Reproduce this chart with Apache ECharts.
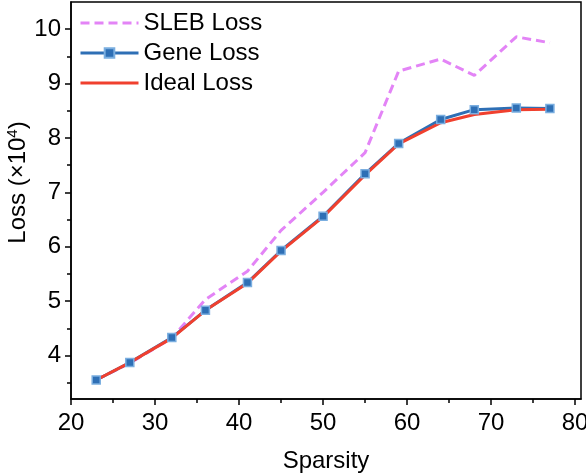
<!DOCTYPE html>
<html>
<head>
<meta charset="utf-8">
<script src="https://cdn.jsdelivr.net/npm/echarts@6/dist/echarts.min.js"></script>
<style>
  html, body { margin: 0; padding: 0; background: #fff; }
  #chart { width: 586px; height: 474px; }
</style>
</head>
<body>
<div id="chart"></div>
<script>
// sparsity (%) on x, loss (x10^4) on y
const sparsity  = [23, 27, 32, 36, 41, 45, 50, 55, 59, 64, 68, 73, 77];
const slebLoss  = [3.55, 3.86, 4.32, 5.03, 5.55, 6.30, 7.00, 7.73, 9.23, 9.45, 9.15, 9.86, 9.75];
const geneLoss  = [3.55, 3.87, 4.33, 4.83, 5.34, 5.93, 6.56, 7.34, 7.90, 8.34, 8.52, 8.55, 8.54];
const idealLoss = [3.55, 3.87, 4.32, 4.83, 5.33, 5.92, 6.55, 7.32, 7.89, 8.28, 8.43, 8.52, 8.53];

const xTicks = [20, 30, 40, 50, 60, 70, 80];
const xMinor = [25, 35, 45, 55, 65, 75];
const yTicks = [4, 5, 6, 7, 8, 9, 10];
const yMinor = [3.5, 4.5, 5.5, 6.5, 7.5, 8.5, 9.5];

const FONT = '"Liberation Sans", Arial, sans-serif';
const FS = 24;
const pairs = ys => sparsity.map((x, i) => [x, ys[i]]);

const xRange = { min: 20, max: 80.7 };
const yRange = { min: 3.2, max: 10.5 };

const chart = echarts.init(document.getElementById('chart'));
chart.setOption({
  animation: false,
  textStyle: { fontFamily: FONT },
  grid: {
    left: 71, right: 5, top: 2, bottom: 75,
    containLabel: false, outerBoundsMode: 'none',
    show: true, borderColor: '#000', borderWidth: 1.5
  },
  legend: {
    orient: 'vertical', left: 74, top: 6,
    itemWidth: 58, itemHeight: 12, itemGap: 6,
    lineStyle: { width: 3 },
    textStyle: { fontSize: FS, lineHeight: 24, color: '#000', fontFamily: FONT },
    data: [
      { name: 'SLEB Loss', itemStyle: { opacity: 0 } },
      { name: 'Gene Loss' },
      { name: 'Ideal Loss', itemStyle: { opacity: 0 } }
    ]
  },
  xAxis: [{
    type: 'value', ...xRange,
    name: 'Sparsity', nameLocation: 'middle', nameGap: 50, nameMoveOverlap: false,
    nameTextStyle: { fontSize: FS, color: '#000', fontFamily: FONT },
    splitLine: { show: false },
    axisLine: { lineStyle: { color: '#000', width: 1.5 } },
    axisTick: { customValues: xTicks, length: 6, lineStyle: { color: '#000', width: 1.5 } },
    axisLabel: { customValues: xTicks, fontSize: FS, color: '#000', margin: 12, fontFamily: FONT }
  }, {
    // minor ticks
    type: 'value', ...xRange, position: 'bottom',
    splitLine: { show: false },
    axisLine: { show: false },
    axisTick: { customValues: xMinor, length: 4, lineStyle: { color: '#000', width: 1.5 } },
    axisLabel: { show: false }
  }],
  yAxis: [{
    type: 'value', ...yRange,
    name: '{a|Loss (×10}{s|4}{a|)}', nameLocation: 'middle', nameGap: 40, nameRotate: 90,
    nameMoveOverlap: false,
    nameTextStyle: {
      padding: [0, 0, 0, 36],
      rich: {
        a: { fontSize: FS, color: '#000', fontFamily: FONT, lineHeight: 26 },
        s: { fontSize: 15, color: '#000', fontFamily: FONT, verticalAlign: 'top', lineHeight: 15 }
      }
    },
    splitLine: { show: false },
    axisLine: { lineStyle: { color: '#000', width: 1.5 } },
    axisTick: { customValues: yTicks, length: 6, lineStyle: { color: '#000', width: 1.5 } },
    axisLabel: { customValues: yTicks, fontSize: FS, color: '#000', margin: 10, fontFamily: FONT }
  }, {
    type: 'value', ...yRange, position: 'left',
    splitLine: { show: false },
    axisLine: { show: false },
    axisTick: { customValues: yMinor, length: 4, lineStyle: { color: '#000', width: 1.5 } },
    axisLabel: { show: false }
  }],
  series: [{
    name: 'SLEB Loss', type: 'line', data: pairs(slebLoss),
    symbol: 'none', color: '#e384f6',
    lineStyle: { width: 3, type: [9, 5], color: '#e384f6' }
  }, {
    name: 'Gene Loss', type: 'line', data: pairs(geneLoss),
    symbol: 'rect', symbolSize: 8, color: '#2e6fb5',
    lineStyle: { width: 3, color: '#2e6fb5' },
    itemStyle: { color: '#2e6fb5', borderColor: '#7aaee0', borderWidth: 1.5 }
  }, {
    name: 'Ideal Loss', type: 'line', data: pairs(idealLoss),
    symbol: 'none', color: '#f0402e',
    lineStyle: { width: 3, color: '#f0402e' }
  }]
});
</script>
</body>
</html>
